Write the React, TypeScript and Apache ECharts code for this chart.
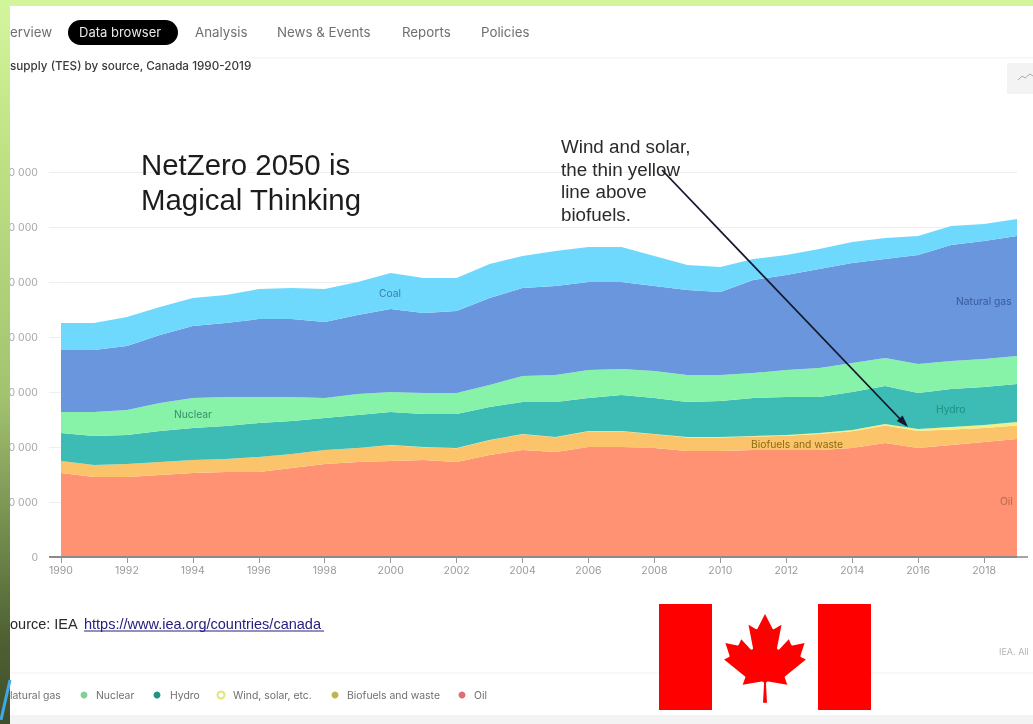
import React, { useEffect, useRef } from "react";
import * as echarts from "echarts";

const years = ["1990","1991","1992","1993","1994","1995","1996","1997","1998","1999","2000","2001","2002","2003","2004","2005","2006","2007","2008","2009","2010","2011","2012","2013","2014","2015","2016","2017","2018","2019"];
// thousand TJ
const oil = [3055,2909,2909,2982,3055,3091,3091,3236,3382,3455,3491,3527,3455,3709,3891,3818,4000,4000,3964,3855,3855,3891,3891,3891,3964,4145,3964,4073,4182,4291];
const biofuels = [432,432,469,469,469,469,541,505,505,505,576,467,503,539,574,537,572,571,496,494,491,487,516,582,608,633,618,564,509,491];
const windSolar = [4,4,4,4,4,4,4,4,4,4,6,6,6,6,8,8,10,11,13,15,18,22,29,36,47,58,73,91,109,127];
const hydro = [1018,1055,1055,1127,1164,1200,1236,1200,1164,1200,1200,1200,1236,1200,1164,1273,1200,1309,1309,1273,1309,1382,1382,1309,1382,1382,1309,1382,1382,1382];
const nuclear = [764,873,909,1018,1091,1055,945,873,727,764,727,764,764,800,945,982,1018,945,982,982,945,909,982,1055,1055,1018,1055,1018,1018,1018];
const naturalGas = [2255,2255,2327,2473,2618,2691,2836,2836,2764,2873,3018,2909,2982,3164,3200,3236,3200,3164,3091,3091,3018,3382,3455,3600,3636,3600,3964,4218,4291,4364];
const coal = [982,982,1055,1018,1018,1018,1091,1127,1200,1200,1309,1273,1200,1236,1164,1273,1273,1273,1091,909,909,764,727,727,764,764,691,691,618,618];
const yTickLabels = ["0","0 000","0 000","0 000","0 000","0 000","0 000","0 000"];
const navItems = ["erview","Analysis","News & Events","Reports","Policies"];
const navX = [10,195,277,402,481];
const leaf = "m-90 2030 45-863a95 95 0 0 0-111-98l-859 151 116-320a65 65 0 0 0-20-73l-941-762 212-99a65 65 0 0 0 34-79l-186-572 542 115a65 65 0 0 0 73-38l105-247 423 454a65 65 0 0 0 111-57l-204-1052 327 189a65 65 0 0 0 91-27l332-652 332 652a65 65 0 0 0 91 27l327-189-204 1052a65 65 0 0 0 111 57l423-454 105 247a65 65 0 0 0 73 38l542-115-186 572a65 65 0 0 0 34 79l212 99-941 762a65 65 0 0 0-20 73l116 320-859-151a95 95 0 0 0-111 98l45 863z";

const SANS = "Liberation Sans";
const UI = "Inter";

function txt(text: string, x: number, y: number, fontSize: number, fill: string, fontFamily = UI, extra: any = {}) {
  return { type: "text", x, y, z: 50, silent: true, style: { text, fontSize, fill, fontFamily, verticalAlign: "middle", ...extra } };
}
function dot(cx: number, fill: string, stroke?: string) {
  return { type: "circle", z: 50, silent: true, shape: { cx, cy: 695, r: 3.5 }, style: { fill, stroke: stroke || fill, lineWidth: stroke ? 2 : 0 } };
}

export default function App() {
  const ref = useRef<HTMLDivElement>(null);
  useEffect(() => {
    document.body.style.margin = "0";
    if (!ref.current) return;
    echarts.graphic.registerShape("mapleLeaf", echarts.graphic.extendPath(leaf, {}));
    const chart = echarts.init(ref.current, undefined, { renderer: "svg" });
    const area = (name: string, data: number[], color: string) => ({
      name, type: "line", stack: "tes", data, symbol: "none", showSymbol: false,
      lineStyle: { width: 0 }, itemStyle: { color }, areaStyle: { color, opacity: 1 }, silent: true,
    });
    chart.setOption({
      animation: false,
      backgroundColor: "#ffffff",
      grid: { left: 61, right: 16, top: 172, bottom: 167 },
      xAxis: {
        type: "category", data: years, boundaryGap: false, z: 20,
        axisLine: { show: true, onZero: true, lineStyle: { color: "#8a8a8a", width: 2 } },
        axisTick: { show: true, interval: 1, length: 6, lineStyle: { color: "#999" } },
        axisLabel: { interval: 1, color: "#9a9a9a", fontSize: 10.5, fontFamily: UI, margin: 8 },
      },
      yAxis: {
        type: "value", min: 0, max: 14000, interval: 2000,
        axisLine: { show: false },
        axisTick: { show: true, length: 12, lineStyle: { color: "#efefef" } },
        axisLabel: {
          color: "#a8a8a8", fontSize: 10.5, fontFamily: UI, margin: 23,
          formatter: (_v: number, i: number) => yTickLabels[i],
        },
        splitLine: { lineStyle: { color: "#eeeeee", width: 1 } },
      },
      series: [
        area("Oil", oil, "#ff9273"),
        area("Biofuels and waste", biofuels, "#fcc46a"),
        area("Wind, solar, etc.", windSolar, "#f2ef86"),
        area("Hydro", hydro, "#3cbcb4"),
        area("Nuclear", nuclear, "#87f3a8"),
        area("Natural gas", naturalGas, "#6996dc"),
        area("Coal", coal, "#6fd9fd"),
      ],
      graphic: { elements: [
        // page chrome
        { type: "line", z: 40, silent: true, shape: { x1: 252, y1: 58, x2: 1033, y2: 58 }, style: { stroke: "#f1f1f1", lineWidth: 1 } },
        { type: "line", z: 40, silent: true, shape: { x1: 10, y1: 673, x2: 1033, y2: 673 }, style: { stroke: "#f1f1f1", lineWidth: 1 } },
        { type: "rect", z: 40, silent: true, shape: { x: 10, y: 715, width: 1023, height: 9 }, style: { fill: "#f3f3f3" } },
        { type: "rect", z: 40, silent: true, shape: { x: 1007, y: 63, width: 26, height: 31 }, style: { fill: "#f3f3f3" } },
        { type: "polyline", z: 41, silent: true, shape: { points: [[1018,80],[1022,76],[1025,78],[1030,74],[1033,76]] }, style: { stroke: "#aaaaaa", fill: "none", lineWidth: 1 } },
        // axis line stubs either side of the plot
        { type: "line", z: 45, silent: true, shape: { x1: 49, y1: 557, x2: 61, y2: 557 }, style: { stroke: "#8a8a8a", lineWidth: 2 } },
        { type: "line", z: 45, silent: true, shape: { x1: 1017, y1: 557, x2: 1028, y2: 557 }, style: { stroke: "#a5a5a5", lineWidth: 2 } },
        // nav
        { type: "rect", z: 41, silent: true, shape: { x: 68, y: 20, width: 110, height: 25, r: 12.5 }, style: { fill: "#000000" } },
        txt("Data browser", 79, 32, 13, "#e8e8e8"),
        ...navItems.map((t, i) => txt(t, navX[i], 32, 13.3, "#6f6f6f")),
        txt("supply (TES) by source, Canada 1990-2019", 10, 66, 11.7, "#3a3a3a", UI, { fontWeight: 500 }),
        // annotations
        txt("NetZero 2050 is", 141, 164, 29.4, "#1c1c1c", SANS),
        txt("Magical Thinking", 141, 199, 29.4, "#1c1c1c", SANS),
        txt("Wind and solar,", 561, 146, 18.8, "#2a2a2a", SANS),
        txt("the thin yellow", 561, 169, 18.8, "#2a2a2a", SANS),
        txt("line above", 561, 191, 18.8, "#2a2a2a", SANS),
        txt("biofuels.", 561, 214, 18.8, "#2a2a2a", SANS),
        { type: "line", z: 60, silent: true, shape: { x1: 662, y1: 170, x2: 902, y2: 421 }, style: { stroke: "#14182a", lineWidth: 1.8 } },
        { type: "polygon", z: 60, silent: true, shape: { points: [[908,427],[896.8,421.1],[902.6,415.5]] }, style: { fill: "#14182a" } },
        // direct labels
        txt("Coal", 379, 293, 10.3, "#3c7fa6"),
        txt("Nuclear", 174, 414, 10.3, "#35906a"),
        txt("Natural gas", 956, 301, 10.3, "#3a5a9c"),
        txt("Hydro", 936, 409, 10.3, "#1f8f80"),
        txt("Biofuels and waste", 751, 444, 10.3, "#8a6a14"),
        txt("Oil", 1000, 501, 10.3, "#b5694f"),
        // source
        txt("ource: IEA", 10, 624, 14.5, "#2a2a2a", SANS),
        txt("https://www.iea.org/countries/canada", 84, 624, 14.5, "#26207f", SANS),
        { type: "line", z: 50, silent: true, shape: { x1: 84, y1: 631, x2: 324, y2: 631 }, style: { stroke: "#26207f", lineWidth: 1 } },
        txt("IEA. All", 999, 651, 9, "#b5b5b5"),
        // legend
        txt("latural gas", 10, 695, 10.4, "#707070"),
        dot(84, "#7fd196"), txt("Nuclear", 96, 695, 10.4, "#707070"),
        dot(157, "#1f9485"), txt("Hydro", 170, 695, 10.4, "#707070"),
        dot(221, "#ffffff", "#e2e37a"), txt("Wind, solar, etc.", 233, 695, 10.4, "#707070"),
        dot(335, "#bdb552"), txt("Biofuels and waste", 347, 695, 10.4, "#707070"),
        dot(462, "#dc6f74"), txt("Oil", 474, 695, 10.4, "#707070"),
        // flag
        { type: "rect", z: 70, silent: true, shape: { x: 659, y: 604, width: 212, height: 106 }, style: { fill: "#ffffff" } },
        { type: "rect", z: 71, silent: true, shape: { x: 659, y: 604, width: 53, height: 106 }, style: { fill: "#ff0000" } },
        { type: "rect", z: 71, silent: true, shape: { x: 818, y: 604, width: 53, height: 106 }, style: { fill: "#ff0000" } },
        { type: "mapleLeaf", z: 71, silent: true, x: 765, y: 658, scaleX: 0.0221, scaleY: 0.0221, style: { fill: "#ff0000" } },
        // slide background
        { type: "rect", z: 80, silent: true, shape: { x: 0, y: 0, width: 1033, height: 6 }, style: { fill: "#d3f59c" } },
        { type: "rect", z: 80, silent: true, shape: { x: 0, y: 0, width: 10, height: 724 }, style: {
          fill: new echarts.graphic.LinearGradient(0, 0, 0, 1, [
            { offset: 0, color: "#d3f59c" },
            { offset: 0.22, color: "#bfe184" },
            { offset: 0.55, color: "#a3c270" },
            { offset: 0.77, color: "#6a8248" },
            { offset: 0.88, color: "#4f6133" },
            { offset: 1, color: "#3f4f2b" },
          ]) } },
        { type: "line", z: 81, silent: true, shape: { x1: 10, y1: 680, x2: 1, y2: 720 }, style: { stroke: "#3fa9e8", lineWidth: 3 } },
      ] },
    });
    return () => chart.dispose();
  }, []);
  return <div ref={ref} style={{ width: 1033, height: 724, filter: "blur(0.4px)" }} />;
}
